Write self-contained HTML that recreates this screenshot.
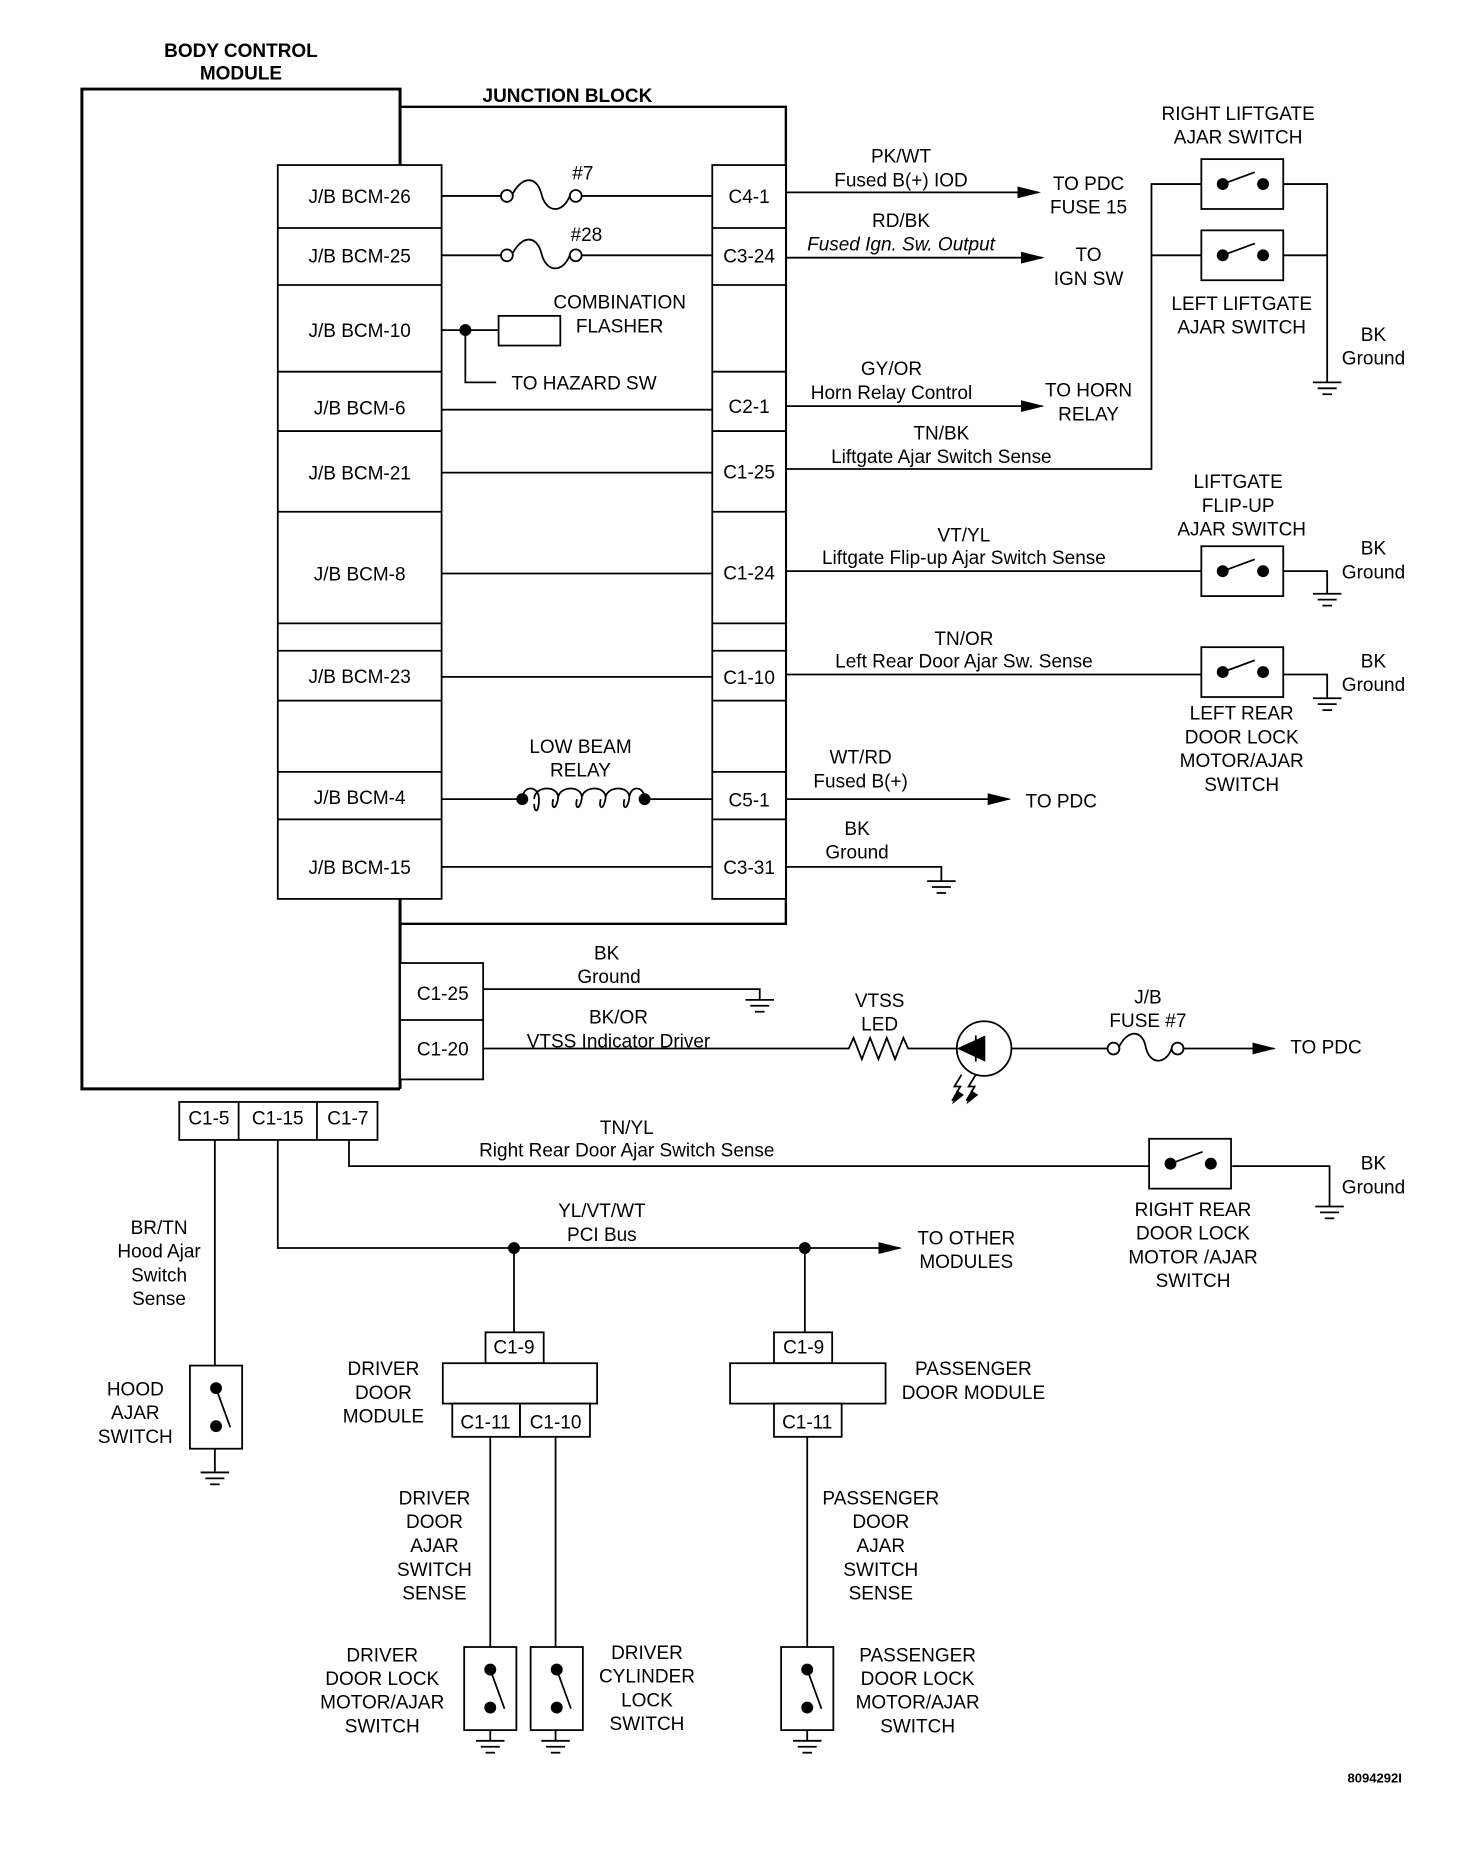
<!DOCTYPE html>
<html><head><meta charset="utf-8"><style>
html,body{margin:0;padding:0;background:#fff}
svg{display:block}
text{font-family:"Liberation Sans",sans-serif;font-size:16px;fill:#000;text-anchor:middle}
.b{font-weight:bold}
.l{text-anchor:start}
</style></head><body>
<svg width="1472" height="1856" viewBox="0 0 1240 1563" preserveAspectRatio="none" xmlns="http://www.w3.org/2000/svg">
<defs>
<g id="gnd" stroke="#000" stroke-width="1.5"><line x1="-12" y1="0" x2="12" y2="0"/><line x1="-8" y1="5" x2="8" y2="5"/><line x1="-4" y1="10" x2="4" y2="10"/></g>
<g id="hsw"><rect x="0" y="0" width="69" height="42" fill="#fff" stroke="#000" stroke-width="1.5"/><circle cx="18" cy="21" r="5"/><circle cx="52" cy="21" r="5"/><line x1="18" y1="21" x2="45" y2="11" stroke="#000" stroke-width="1.5"/></g>
<g id="vsw"><rect x="0" y="0" width="44" height="70" fill="#fff" stroke="#000" stroke-width="1.5"/><circle cx="22" cy="19" r="5"/><circle cx="22" cy="51" r="5"/><line x1="22" y1="19" x2="34" y2="52" stroke="#000" stroke-width="1.5"/></g>
<marker id="ar" markerWidth="20" markerHeight="10" refX="18" refY="5" orient="auto" markerUnits="userSpaceOnUse"><path d="M0,0 L20,5 L0,10 Z" fill="#000"/></marker>
</defs>
<g fill="none" stroke="#000" stroke-width="1.5">
<!-- BCM -->
<path d="M337,917 L69,917 L69,75 L337,75 L337,917" stroke-width="2.5"/>
<!-- JB -->
<path d="M337,90 L662,90 L662,778 L337,778" stroke-width="2"/>
<rect x="234" y="139" width="138" height="618" fill="#fff"/>
<rect x="600" y="139" width="62" height="618" fill="#fff"/>
<path d="M234,192H372M234,240H372M234,313H372M234,363H372M234,431H372M234,525H372M234,548H372M234,590H372M234,650H372M234,690H372"/>
<path d="M600,192H662M600,240H662M600,313H662M600,363H662M600,431H662M600,525H662M600,548H662M600,590H662M600,650H662M600,690H662"/>
<!-- internal lines -->
<path d="M372,165H422M490,165H600"/>
<circle cx="427" cy="165" r="5"/><circle cx="485" cy="165" r="5"/>
<path d="M432,163 C440,148 452,148 456,163 C460,180 474,180 480,165"/>
<path d="M372,215H422M490,215H600"/>
<circle cx="427" cy="215" r="5"/><circle cx="485" cy="215" r="5"/>
<path d="M432,213 C440,198 452,198 456,213 C460,230 474,230 480,215"/>
<path d="M372,278H420M392,278V322H418"/>
<rect x="420" y="266" width="52" height="25"/>
<path d="M372,345H600M372,398H600M372,483H600M372,570H600M372,673H440M543,673H600M372,730H600"/>
<path d="M440,673 c0,-12 14,-12 14,0 c0,12 -4,12 -4,4 M450,673 c0,-12 22,-12 20,0 c-2,10 -6,8 -4,0 M470,673 c0,-12 22,-12 20,0 c-2,10 -6,8 -4,0 M490,673 c0,-12 22,-12 20,0 c-2,10 -6,8 -4,0 M510,673 c0,-12 22,-12 20,0 c-2,10 -6,8 -4,0 M530,673 c0,-12 13,-12 13,0"/>
<!-- right of JB -->
<path d="M662,162H875" marker-end="url(#ar)"/>
<path d="M662,217H878" marker-end="url(#ar)"/>
<path d="M662,342H878" marker-end="url(#ar)"/>
<path d="M662,395H970V155H1012M970,215H1012M1081,155H1118V322M1081,215H1118"/>
<path d="M662,481H1012M1081,481H1118V500"/>
<path d="M662,568H1012M1081,568H1118V588"/>
<path d="M662,673H850" marker-end="url(#ar)"/>
<path d="M662,730H793V742"/>
<!-- lower BCM connectors -->
<rect x="337" y="811" width="70" height="98" fill="#fff"/>
<path d="M337,859H407"/>
<path d="M407,833H640V842"/>
<path d="M407,883H715l4,-9 7,18 7,-18 7,18 7,-18 7,18 7,-18 4,9H806M852,883H933"/>
<circle cx="829" cy="883" r="23"/>
<path d="M822,872V894"/>
<circle cx="938" cy="883" r="5"/><circle cx="992" cy="883" r="5"/>
<path d="M943,881 C950,867 962,867 965,881 C968,897 982,897 987,883"/>
<path d="M997,883H1073" marker-end="url(#ar)"/>
<path d="M810,905 l-6,10 5,0 -7,12 M822,905 l-6,10 5,0 -7,12"/>
<rect x="151" y="928" width="167" height="32" fill="#fff"/>
<path d="M201,928V960M267,928V960"/>
<path d="M294,960V982H968M1038,982H1120V1016"/>
<path d="M234,960V1051H758" marker-end="url(#ar)"/>
<path d="M181,960V1240"/>
<path d="M433,1051V1122M678,1051V1122"/>
<rect x="409" y="1122" width="49" height="26"/>
<rect x="373" y="1148" width="130" height="34" fill="#fff"/>
<rect x="381" y="1182" width="57" height="28"/><rect x="438" y="1182" width="59" height="28"/>
<rect x="652" y="1122" width="49" height="26"/>
<rect x="615" y="1148" width="131" height="34" fill="#fff"/>
<rect x="652" y="1182" width="57" height="28"/>
<path d="M413,1210V1466M468,1210V1466M680,1210V1466"/>
</g>
<path d="M806,883 L830,872 L830,894 Z" fill="#000"/>
<path d="M812,922 l-10,8 4,-12Z M824,922 l-10,8 4,-12Z" fill="#000"/>
<circle cx="392" cy="278" r="5"/>
<circle cx="433" cy="1051" r="5"/><circle cx="678" cy="1051" r="5"/>
<circle cx="440" cy="673" r="5"/><circle cx="543" cy="673" r="5"/>
<use href="#hsw" x="1012" y="134"/>
<use href="#hsw" x="1012" y="194"/>
<use href="#hsw" x="1012" y="460"/>
<use href="#hsw" x="1012" y="545"/>
<use href="#hsw" x="968" y="959"/>
<use href="#vsw" x="160" y="1150"/>
<use href="#vsw" x="391" y="1387"/>
<use href="#vsw" x="447" y="1387"/>
<use href="#vsw" x="658" y="1387"/>
<use href="#gnd" x="1118" y="322"/>
<use href="#gnd" x="1118" y="500"/>
<use href="#gnd" x="1118" y="588"/>
<use href="#gnd" x="793" y="742"/>
<use href="#gnd" x="640" y="842"/>
<use href="#gnd" x="1120" y="1016"/>
<use href="#gnd" x="181" y="1240"/>
<use href="#gnd" x="413" y="1466"/>
<use href="#gnd" x="468" y="1466"/>
<use href="#gnd" x="680" y="1466"/>
<!-- texts -->
<text class="b" x="203" y="48">BODY CONTROL</text>
<text class="b" x="203" y="67">MODULE</text>
<text class="b" x="478" y="86">JUNCTION BLOCK</text>
<text x="303" y="171">J/B BCM-26</text>
<text x="303" y="221">J/B BCM-25</text>
<text x="303" y="284">J/B BCM-10</text>
<text x="303" y="349">J/B BCM-6</text>
<text x="303" y="404">J/B BCM-21</text>
<text x="303" y="489">J/B BCM-8</text>
<text x="303" y="575">J/B BCM-23</text>
<text x="303" y="677">J/B BCM-4</text>
<text x="303" y="736">J/B BCM-15</text>
<text x="631" y="171">C4-1</text>
<text x="631" y="221">C3-24</text>
<text x="631" y="348">C2-1</text>
<text x="631" y="403">C1-25</text>
<text x="631" y="488">C1-24</text>
<text x="631" y="576">C1-10</text>
<text x="631" y="679">C5-1</text>
<text x="631" y="736">C3-31</text>
<text x="491" y="151">#7</text>
<text x="494" y="203">#28</text>
<text x="522" y="260">COMBINATION</text>
<text x="522" y="280">FLASHER</text>
<text x="492" y="328">TO HAZARD SW</text>
<text x="489" y="634">LOW BEAM</text>
<text x="489" y="654">RELAY</text>
<text x="759" y="137">PK/WT</text>
<text x="759" y="157">Fused B(+) IOD</text>
<text x="917" y="160">TO PDC</text>
<text x="917" y="180">FUSE 15</text>
<text x="759" y="191">RD/BK</text>
<text x="759" y="211" font-style="italic">Fused Ign. Sw. Output</text>
<text x="917" y="220">TO</text>
<text x="917" y="240">IGN SW</text>
<text x="751" y="316">GY/OR</text>
<text x="751" y="336">Horn Relay Control</text>
<text x="917" y="334">TO HORN</text>
<text x="917" y="354">RELAY</text>
<text x="793" y="370">TN/BK</text>
<text x="793" y="390">Liftgate Ajar Switch Sense</text>
<text x="1043" y="101">RIGHT LIFTGATE</text>
<text x="1043" y="121">AJAR SWITCH</text>
<text x="1046" y="261">LEFT LIFTGATE</text>
<text x="1046" y="281">AJAR SWITCH</text>
<text x="1157" y="287">BK</text>
<text x="1157" y="307">Ground</text>
<text x="1043" y="411">LIFTGATE</text>
<text x="1043" y="431">FLIP-UP</text>
<text x="1046" y="451">AJAR SWITCH</text>
<text x="1157" y="467">BK</text>
<text x="1157" y="487">Ground</text>
<text x="812" y="456">VT/YL</text>
<text x="812" y="475">Liftgate Flip-up Ajar Switch Sense</text>
<text x="812" y="543">TN/OR</text>
<text x="812" y="562">Left Rear Door Ajar Sw. Sense</text>
<text x="1157" y="562">BK</text>
<text x="1157" y="582">Ground</text>
<text x="1046" y="606">LEFT REAR</text>
<text x="1046" y="626">DOOR LOCK</text>
<text x="1046" y="646">MOTOR/AJAR</text>
<text x="1046" y="666">SWITCH</text>
<text x="725" y="643">WT/RD</text>
<text x="725" y="663">Fused B(+)</text>
<text x="894" y="680">TO PDC</text>
<text x="722" y="703">BK</text>
<text x="722" y="723">Ground</text>
<text x="373" y="842">C1-25</text>
<text x="373" y="889">C1-20</text>
<text x="511" y="808">BK</text>
<text x="513" y="828">Ground</text>
<text x="521" y="862">BK/OR</text>
<text x="521" y="882">VTSS Indicator Driver</text>
<text x="741" y="848">VTSS</text>
<text x="741" y="868">LED</text>
<text x="967" y="845">J/B</text>
<text x="967" y="865">FUSE #7</text>
<text x="1117" y="887">TO PDC</text>
<text x="176" y="947">C1-5</text>
<text x="234" y="947">C1-15</text>
<text x="293" y="947">C1-7</text>
<text x="528" y="955">TN/YL</text>
<text x="528" y="974">Right Rear Door Ajar Switch Sense</text>
<text x="1157" y="985">BK</text>
<text x="1157" y="1005">Ground</text>
<text x="1005" y="1024">RIGHT REAR</text>
<text x="1005" y="1044">DOOR LOCK</text>
<text x="1005" y="1064">MOTOR /AJAR</text>
<text x="1005" y="1084">SWITCH</text>
<text x="507" y="1025">YL/VT/WT</text>
<text x="507" y="1045">PCI Bus</text>
<text x="814" y="1048">TO OTHER</text>
<text x="814" y="1068">MODULES</text>
<text x="134" y="1039">BR/TN</text>
<text x="134" y="1059">Hood Ajar</text>
<text x="134" y="1079">Switch</text>
<text x="134" y="1099">Sense</text>
<text x="114" y="1175">HOOD</text>
<text x="114" y="1195">AJAR</text>
<text x="114" y="1215">SWITCH</text>
<text x="433" y="1140">C1-9</text>
<text x="677" y="1140">C1-9</text>
<text x="409" y="1203">C1-11</text>
<text x="468" y="1203">C1-10</text>
<text x="680" y="1203">C1-11</text>
<text x="323" y="1158">DRIVER</text>
<text x="323" y="1178">DOOR</text>
<text x="323" y="1198">MODULE</text>
<text x="820" y="1158">PASSENGER</text>
<text x="820" y="1178">DOOR MODULE</text>
<text x="366" y="1267">DRIVER</text>
<text x="366" y="1287">DOOR</text>
<text x="366" y="1307">AJAR</text>
<text x="366" y="1327">SWITCH</text>
<text x="366" y="1347">SENSE</text>
<text x="742" y="1267">PASSENGER</text>
<text x="742" y="1287">DOOR</text>
<text x="742" y="1307">AJAR</text>
<text x="742" y="1327">SWITCH</text>
<text x="742" y="1347">SENSE</text>
<text x="322" y="1399">DRIVER</text>
<text x="322" y="1419">DOOR LOCK</text>
<text x="322" y="1439">MOTOR/AJAR</text>
<text x="322" y="1459">SWITCH</text>
<text x="545" y="1397">DRIVER</text>
<text x="545" y="1417">CYLINDER</text>
<text x="545" y="1437">LOCK</text>
<text x="545" y="1457">SWITCH</text>
<text x="773" y="1399">PASSENGER</text>
<text x="773" y="1419">DOOR LOCK</text>
<text x="773" y="1439">MOTOR/AJAR</text>
<text x="773" y="1459">SWITCH</text>
<text class="b" x="1158" y="1501" style="font-size:11px">8094292I</text>
</svg>
</body></html>
